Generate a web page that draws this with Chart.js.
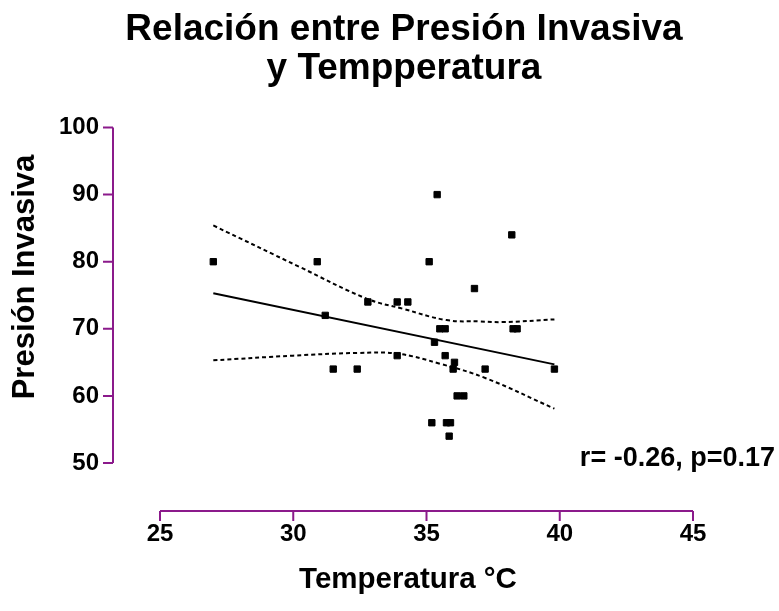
<!DOCTYPE html>
<html>
<head>
<meta charset="utf-8">
<script src="https://cdn.jsdelivr.net/npm/chart.js@4.4.1/dist/chart.umd.min.js"></script>
<style>
  html, body { margin: 0; padding: 0; background: #fff; }
  canvas { display: block; }
</style>
</head>
<body>
<canvas id="chart" width="779" height="611" style="width:779px;height:611px"></canvas>
<script>
// scatter values
const tempC = [27.0, 30.9, 31.2, 31.5, 32.4, 32.8, 33.9, 33.9, 34.3, 35.1, 35.2, 35.3, 35.4, 35.5, 35.7,
  35.7, 35.75, 35.85, 35.9, 36.0, 36.05, 36.15, 36.4, 36.8, 37.2, 38.2, 38.25, 38.4, 39.8];
const presion = [80, 80, 72, 64, 64, 74, 74, 66, 74, 80, 56, 68, 90, 70, 70,
  66, 56, 54, 56, 64, 65, 60, 60, 76, 64, 84, 70, 70, 64];

// fitted line and 95% bands, as drawn
const regX = [27.0, 39.8];
const regY = [75.3, 64.7];
const upperX = [27.0, 30.25, 32.75, 34.1, 35.75, 37.0, 37.87, 39.8];
const upperY = [85.4, 79.2, 74.5, 73.0, 71.3, 71.1, 71.0, 71.4];
const lowerX = [27.0, 30.0, 32.4, 33.9, 35.5, 37.25, 39.8];
const lowerY = [65.3, 66.0, 66.4, 66.3, 64.8, 62.6, 58.1];

const xTicks = [25, 30, 35, 40, 45];
const yTicks = [50, 60, 70, 80, 90, 100];

const titleLines = ['Relación entre Presión Invasiva', 'y Tempperatura'];
const xTitle = 'Temperatura °C';
const yTitle = 'Presión Invasiva';
const statsText = 'r= -0.26, p=0.17';

const axisColor = '#8b1a8b';
const fontFamily = '"Liberation Sans", Arial, sans-serif';

const toXY = (xs, ys) => xs.map((x, i) => ({x, y: ys[i]}));

// Prism-style axes sitting away from the plot area
const detachedAxes = {
  id: 'detachedAxes',
  afterDraw(chart) {
    const {ctx, chartArea, scales: {x, y}} = chart;
    const axisX = chartArea.left - 47;
    const axisY = chartArea.bottom + 48;
    const tick = 10;
    ctx.save();
    ctx.strokeStyle = axisColor;
    ctx.lineWidth = 2;
    ctx.beginPath();
    ctx.moveTo(axisX, y.getPixelForValue(yTicks[0]));
    ctx.lineTo(axisX, y.getPixelForValue(yTicks[yTicks.length - 1]));
    yTicks.forEach(v => {
      const py = y.getPixelForValue(v);
      ctx.moveTo(axisX - tick, py);
      ctx.lineTo(axisX, py);
    });
    ctx.moveTo(x.getPixelForValue(xTicks[0]), axisY);
    ctx.lineTo(x.getPixelForValue(xTicks[xTicks.length - 1]), axisY);
    xTicks.forEach(v => {
      const px = x.getPixelForValue(v);
      ctx.moveTo(px, axisY);
      ctx.lineTo(px, axisY + tick);
    });
    ctx.stroke();
    ctx.restore();
  }
};

const labels = {
  id: 'labels',
  afterDraw(chart) {
    const {ctx} = chart;
    ctx.save();
    ctx.fillStyle = '#000';
    ctx.textAlign = 'center';
    ctx.textBaseline = 'middle';
    ctx.font = 'bold 37px ' + fontFamily;
    titleLines.forEach((t, i) => ctx.fillText(t, 404, 30 + i * 39));

    ctx.font = 'bold 29.5px ' + fontFamily;
    ctx.fillText(xTitle, 408, 580);

    ctx.save();
    ctx.font = 'bold 31px ' + fontFamily;
    ctx.translate(25, 277);
    ctx.rotate(-Math.PI / 2);
    ctx.fillText(yTitle, 0, 0);
    ctx.restore();

    ctx.font = 'bold 27px ' + fontFamily;
    ctx.textAlign = 'right';
    ctx.textBaseline = 'alphabetic';
    ctx.fillText(statsText, 775, 466);
    ctx.restore();
  }
};

const tickFont = {family: fontFamily, size: 24, weight: 'bold'};

new Chart(document.getElementById('chart').getContext('2d'), {
  type: 'scatter',
  data: {
    datasets: [
      {
        label: 'datos',
        data: toXY(tempC, presion),
        pointStyle: 'rect',
        pointRadius: 4.5,
        backgroundColor: '#000',
        borderColor: '#000',
        borderWidth: 1,
      },
      {
        label: 'regresión',
        data: toXY(regX, regY),
        showLine: true,
        borderColor: '#000',
        borderWidth: 2,
        pointRadius: 0,
      },
      {
        label: 'IC superior',
        data: toXY(upperX, upperY),
        showLine: true,
        tension: 0.4,
        borderColor: '#000',
        borderWidth: 2,
        borderDash: [4, 3],
        pointRadius: 0,
      },
      {
        label: 'IC inferior',
        data: toXY(lowerX, lowerY),
        showLine: true,
        tension: 0.4,
        borderColor: '#000',
        borderWidth: 2,
        borderDash: [4, 3],
        pointRadius: 0,
      },
    ]
  },
  options: {
    responsive: false,
    animation: false,
    devicePixelRatio: 1,
    layout: {padding: {top: 127.5, right: 86, left: 0, bottom: 0}},
    plugins: {
      legend: {display: false},
      title: {display: false},
      tooltip: {enabled: false},
    },
    scales: {
      x: {
        type: 'linear',
        min: 25,
        max: 45,
        afterBuildTicks: s => { s.ticks = xTicks.map(v => ({value: v})); },
        afterFit: s => { s.height = 148; },
        grid: {display: false, drawTicks: false},
        border: {display: false},
        ticks: {padding: 57, color: '#000', font: tickFont},
      },
      y: {
        type: 'linear',
        min: 50,
        max: 100,
        afterBuildTicks: s => { s.ticks = yTicks.map(v => ({value: v})); },
        afterFit: s => { s.width = 160; },
        grid: {display: false, drawTicks: false},
        border: {display: false},
        ticks: {padding: 61, color: '#000', font: tickFont},
      },
    }
  },
  plugins: [detachedAxes, labels]
});
</script>
</body>
</html>
